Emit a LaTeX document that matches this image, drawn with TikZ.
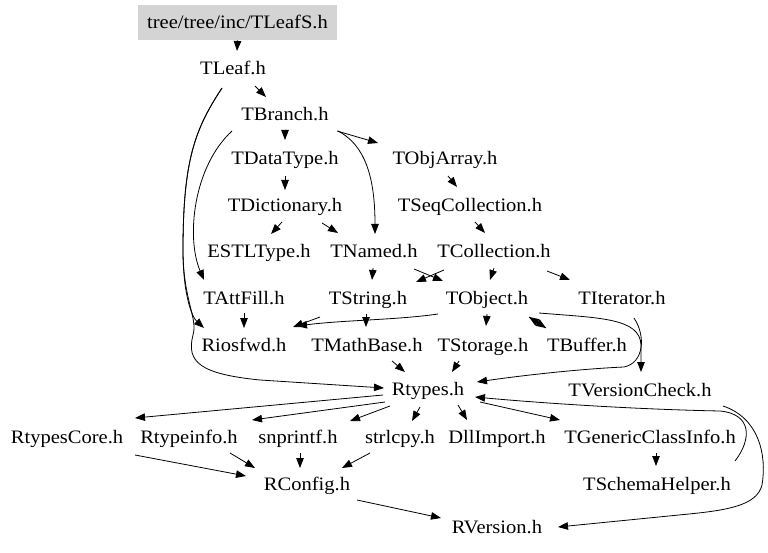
\documentclass[tikz,border=0pt]{standalone}
\usepackage{fontspec}
\setmainfont{Liberation Serif}[FakeStretch=1.08]
\usetikzlibrary{arrows.meta,calc}
\begin{document}
\begin{tikzpicture}[x=1pt,y=-1pt,
  lbl/.style={inner sep=0pt, text height=12pt, text depth=0pt, font=\fontsize{19}{22}\selectfont},
  arr/.style={-{Triangle[length=10pt,width=7.5pt]}, line width=0.8pt},
]
\useasboundingbox (0,0) rectangle (768,553);
\fill[white] (0,0) rectangle (768,553);
\node[lbl, fill=black!17, minimum width=199pt, minimum height=35pt] (leafs) at (237.5,22.5) {tree/tree/inc/TLeafS.h};
\node[lbl] (leaf) at (233,69) {TLeaf.h};
\node[lbl] (branch) at (285,115) {TBranch.h};
\node[lbl] (datatype) at (285,159) {TDataType.h};
\node[lbl] (objarray) at (445,159) {TObjArray.h};
\node[lbl] (dict) at (285,206) {TDictionary.h};
\node[lbl] (seqcoll) at (470,206) {TSeqCollection.h};
\node[lbl] (estl) at (259,252) {ESTLType.h};
\node[lbl] (named) at (374,252) {TNamed.h};
\node[lbl] (coll) at (494,252) {TCollection.h};
\node[lbl] (attfill) at (244,298) {TAttFill.h};
\node[lbl] (string) at (368,298) {TString.h};
\node[lbl] (object) at (487,298) {TObject.h};
\node[lbl] (iterator) at (622,298) {TIterator.h};
\node[lbl] (riosfwd) at (244,345) {Riosfwd.h};
\node[lbl] (mathbase) at (367,345) {TMathBase.h};
\node[lbl] (storage) at (483,345) {TStorage.h};
\node[lbl] (buffer) at (587,345) {TBuffer.h};
\node[lbl] (rtypes) at (428,389) {Rtypes.h};
\node[lbl] (vcheck) at (640,390) {TVersionCheck.h};
\node[lbl] (rtcore) at (67,437) {RtypesCore.h};
\node[lbl] (rtinfo) at (189,437) {Rtypeinfo.h};
\node[lbl] (snprintf) at (298,437) {snprintf.h};
\node[lbl] (strlcpy) at (400,437) {strlcpy.h};
\node[lbl] (dllimport) at (497,437) {DllImport.h};
\node[lbl] (gci) at (650,437) {TGenericClassInfo.h};
\node[lbl] (rconfig) at (307,484) {RConfig.h};
\node[lbl] (schema) at (657,484) {TSchemaHelper.h};
\node[lbl] (rversion) at (497,527) {RVersion.h};

\draw[arr] ($(leafs)+(0,18)$) -- ($(leaf)+(4,-18)$);
\draw[arr] ($(leaf)+(22,17)$) -- ($(branch)+(-19,-18)$);
\draw[arr] ($(leaf)+(-11,19)$) .. controls ($(leaf)+(-38,60)$) and ($(riosfwd)+(-61,-185)$) .. ($(riosfwd)+(-61,-95)$)
  .. controls ($(riosfwd)+(-61,-50)$) and ($(riosfwd)+(-52,-28)$) .. ($(riosfwd)+(-40,-17)$);
\draw[arr] ($(leaf)+(-11,19)$) .. controls ($(leaf)+(-38,60)$) and ($(riosfwd)+(-61,-185)$) .. ($(riosfwd)+(-61,-95)$)
  .. controls ($(riosfwd)+(-61,-45)$) and ($(riosfwd)+(-46,-27)$) .. ($(riosfwd)+(-51,-10)$)
  .. controls ($(riosfwd)+(-58,17)$) and ($(riosfwd)+(-44,29)$) .. ($(riosfwd)+(16,35)$)
  -- ($(rtypes)+(-44,-1)$);
\draw[arr] ($(branch)+(0,16)$) -- ($(datatype)+(0,-19)$);
\draw[arr] ($(branch)+(52,16)$) -- ($(objarray)+(-67,-16)$);
\draw[arr] ($(branch)+(53,16)$) .. controls ($(branch)+(80,30)$) and ($(named)+(1,-75)$) .. ($(named)+(1,-18)$);
\draw[arr] ($(branch)+(-53,16)$) .. controls ($(branch)+(-92,52)$) and ($(attfill)+(-58,-60)$) .. ($(attfill)+(-40,-18)$);
\draw[arr] ($(datatype)+(0,17)$) -- ($(dict)+(0,-16)$);
\draw[arr] ($(objarray)+(3,17)$) -- ($(seqcoll)+(-13,-19)$);
\draw[arr] ($(dict)+(-3,16)$) -- ($(estl)+(12,-18)$);
\draw[arr] ($(dict)+(37,17)$) -- ($(named)+(-36,-19)$);
\draw[arr] ($(seqcoll)+(5,16)$) -- ($(coll)+(-9,-19)$);
\draw[arr] ($(named)+(-1,16)$) -- ($(string)+(4,-18)$);
\draw[arr] ($(named)+(40,17)$) -- ($(object)+(-44,-17)$);
\draw[arr] ($(coll)+(-50,18)$) -- ($(string)+(48,-16)$);
\draw[arr] ($(coll)+(0,16)$) -- ($(object)+(3,-18)$);
\draw[arr] ($(coll)+(53,19)$) -- ($(iterator)+(-52,-18)$);
\draw[arr] ($(attfill)+(0,15)$) -- ($(riosfwd)+(0,-17)$);
\draw[arr] ($(string)+(-2,16)$) -- ($(mathbase)+(-1,-18)$);
\draw[arr] ($(string)+(-48,19)$) -- ($(riosfwd)+(49,-18)$);
\draw[arr] ($(object)+(-49,16)$) .. controls ($(object)+(-90,22)$) and ($(riosfwd)+(100,-25)$) .. ($(riosfwd)+(53,-19)$);
\draw[arr] ($(object)+(0,16)$) -- ($(storage)+(3,-19)$);
\draw[arr] ($(object)+(42,19)$) -- ($(buffer)+(-41,-17)$);
\draw[arr] ($(buffer)+(-41,-17)$) -- ($(object)+(42,19)$);
\draw[arr] ($(object)+(52,15)$) .. controls ($(vcheck)+(-40,-72)$) and ($(vcheck)+(0,-72)$) .. ($(vcheck)+(1,-45)$) -- ($(vcheck)+(1,-18)$);
\draw[arr] ($(iterator)+(12,20)$) .. controls ($(iterator)+(24,38)$) and ($(iterator)+(22,65)$) .. ($(iterator)+(2,69)$)
  .. controls ($(rtypes)+(150,-20)$) and ($(rtypes)+(90,-13)$) .. ($(rtypes)+(49,-7)$);
\draw[arr] ($(mathbase)+(25,16)$) -- ($(rtypes)+(-23,-17)$);
\draw[arr] ($(storage)+(-24,16)$) -- ($(rtypes)+(24,-17)$);
\draw[arr] ($(rtypes)+(-45,6)$) -- ($(rtcore)+(68,-19)$);
\draw[arr] ($(rtypes)+(-43,13)$) -- ($(rtinfo)+(63,-17)$);
\draw[arr] ($(rtypes)+(-38,17)$) -- ($(snprintf)+(52,-16)$);
\draw[arr] ($(rtypes)+(-8,18)$) -- ($(strlcpy)+(12,-16)$);
\draw[arr] ($(rtypes)+(30,16)$) -- ($(dllimport)+(-30,-17)$);
\draw[arr] ($(rtypes)+(52,13)$) -- ($(gci)+(-90,-17)$);
\draw[arr] ($(schema)+(78,-23)$) .. controls ($(schema)+(95,-45)$) and ($(schema)+(95,-70)$) .. ($(schema)+(63,-73)$)
  .. controls ($(rtypes)+(190,20)$) and ($(rtypes)+(90,12)$) .. ($(rtypes)+(47,8)$);
\draw[arr] ($(gci)+(6,16)$) -- ($(schema)+(-1,-18)$);
\draw[arr] ($(vcheck)+(83,16)$) .. controls ($(vcheck)+(119,28)$) and ($(vcheck)+(127,65)$) .. ($(vcheck)+(122,95)$)
  .. controls ($(vcheck)+(117,115)$) and ($(vcheck)+(89,120)$) .. ($(vcheck)+(49,124)$) -- ($(rversion)+(61,0)$);
\draw[arr] ($(rtcore)+(68,18)$) -- ($(rconfig)+(-61,-8)$);
\draw[arr] ($(rtinfo)+(41,16)$) -- ($(rconfig)+(-52,-16)$);
\draw[arr] ($(snprintf)+(2,16)$) -- ($(rconfig)+(-7,-16)$);
\draw[arr] ($(strlcpy)+(-30,16)$) -- ($(rconfig)+(35,-16)$);
\draw[arr] ($(rconfig)+(50,16)$) -- ($(rversion)+(-56,-9)$);
\end{tikzpicture}
\end{document}
